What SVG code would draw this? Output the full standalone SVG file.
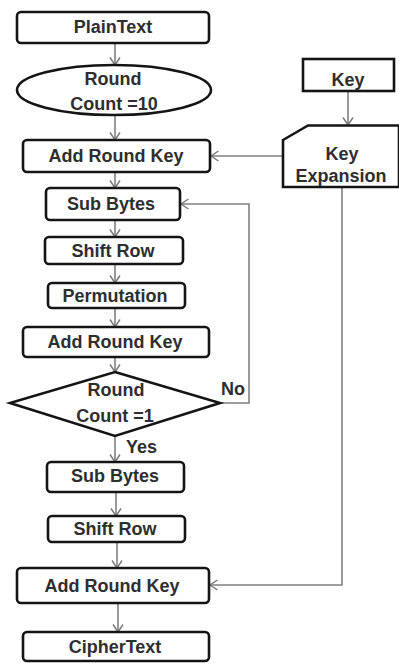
<svg xmlns="http://www.w3.org/2000/svg" width="399" height="663" viewBox="0 0 399 663">
<defs>
<marker id="ah" markerUnits="userSpaceOnUse" markerWidth="12" markerHeight="12" refX="9" refY="6" orient="auto">
<path d="M1.5,1 L9,6 L1.5,11" fill="none" stroke="#7a7a7a" stroke-width="1.5"/>
</marker>
<style>
.box{fill:#fff;stroke:#141414;stroke-width:2.6}
.t{font-family:"Liberation Sans",Arial,sans-serif;font-weight:bold;font-size:18px;fill:#2e2e2e;text-anchor:middle}
.lb{font-family:"Liberation Sans",Arial,sans-serif;font-weight:bold;font-size:18px;fill:#2e2e2e}
.c{fill:none;stroke:#808080;stroke-width:1.6}
</style>
</defs>
<rect width="399" height="663" fill="#fff"/>
<g id="connectors">
<line class="c" x1="115" y1="43" x2="115" y2="65" marker-end="url(#ah)"/>
<line class="c" x1="115" y1="116" x2="115" y2="140" marker-end="url(#ah)"/>
<line class="c" x1="115" y1="172" x2="115" y2="188" marker-end="url(#ah)"/>
<line class="c" x1="115" y1="220" x2="115" y2="237" marker-end="url(#ah)"/>
<line class="c" x1="115" y1="264" x2="115" y2="283" marker-end="url(#ah)"/>
<line class="c" x1="115" y1="308" x2="115" y2="327" marker-end="url(#ah)"/>
<line class="c" x1="115" y1="357" x2="115" y2="372" marker-end="url(#ah)"/>
<line class="c" x1="115" y1="436" x2="115" y2="462" marker-end="url(#ah)"/>
<line class="c" x1="116" y1="492" x2="116" y2="516" marker-end="url(#ah)"/>
<line class="c" x1="117" y1="542" x2="117" y2="568" marker-end="url(#ah)"/>
<line class="c" x1="118" y1="603" x2="118" y2="632" marker-end="url(#ah)"/>
<line class="c" x1="348" y1="91" x2="348" y2="125" marker-end="url(#ah)"/>
<line class="c" x1="283" y1="156" x2="211" y2="156" marker-end="url(#ah)"/>
<polyline class="c" points="220,403 249,403 249,204 181,204" marker-end="url(#ah)"/>
<polyline class="c" points="342,187 342,585 210,585" marker-end="url(#ah)"/>
</g>
<g id="plaintext"><rect class="box" x="17" y="12" width="192" height="31" rx="4"/><text class="t" x="113" y="33">PlainText</text></g>
<g id="round10"><ellipse class="box" cx="114" cy="90" rx="97" ry="25"/><text class="t" x="113" y="85">Round</text><text class="t" x="114" y="110">Count =10</text></g>
<g id="ark1"><rect class="box" x="23" y="140" width="187" height="32" rx="4"/><text class="t" x="116" y="162">Add Round Key</text></g>
<g id="key"><rect class="box" x="303" y="59" width="91" height="32"/><text class="t" x="348" y="86">Key</text></g>
<g id="keyexp"><path class="box" d="M283,140 L308,125.5 L399,125.5 L399,187 L283,187 Z"/><text class="t" x="342" y="160">Key</text><text class="t" x="341" y="182">Expansion</text></g>
<g id="subbytes1"><rect class="box" x="46" y="188" width="134" height="32" rx="4"/><text class="t" x="111" y="210">Sub Bytes</text></g>
<g id="shiftrow1"><rect class="box" x="45" y="237" width="138" height="27" rx="4"/><text class="t" x="113" y="257">Shift Row</text></g>
<g id="permutation"><rect class="box" x="48" y="283" width="137" height="25" rx="4"/><text class="t" x="115" y="302">Permutation</text></g>
<g id="ark2"><rect class="box" x="23" y="327" width="186" height="30" rx="4"/><text class="t" x="115" y="348">Add Round Key</text></g>
<g id="round1"><polygon class="box" stroke-width="2.2" points="115,372 220,403 115,436 10,403"/><text class="t" x="116" y="396">Round</text><text class="t" x="115" y="422">Count =1</text></g>
<text class="lb" x="221" y="395">No</text>
<text class="lb" x="126" y="453">Yes</text>
<g id="subbytes2"><rect class="box" x="47" y="462" width="137" height="30" rx="4"/><text class="t" x="115" y="482">Sub Bytes</text></g>
<g id="shiftrow2"><rect class="box" x="48" y="516" width="137" height="26" rx="4"/><text class="t" x="115" y="535">Shift Row</text></g>
<g id="ark3"><rect class="box" x="17" y="568" width="192" height="35" rx="4"/><text class="t" x="112" y="592">Add Round Key</text></g>
<g id="ciphertext"><rect class="box" x="23" y="632" width="186" height="29" rx="4"/><text class="t" x="115" y="653">CipherText</text></g>
</svg>
